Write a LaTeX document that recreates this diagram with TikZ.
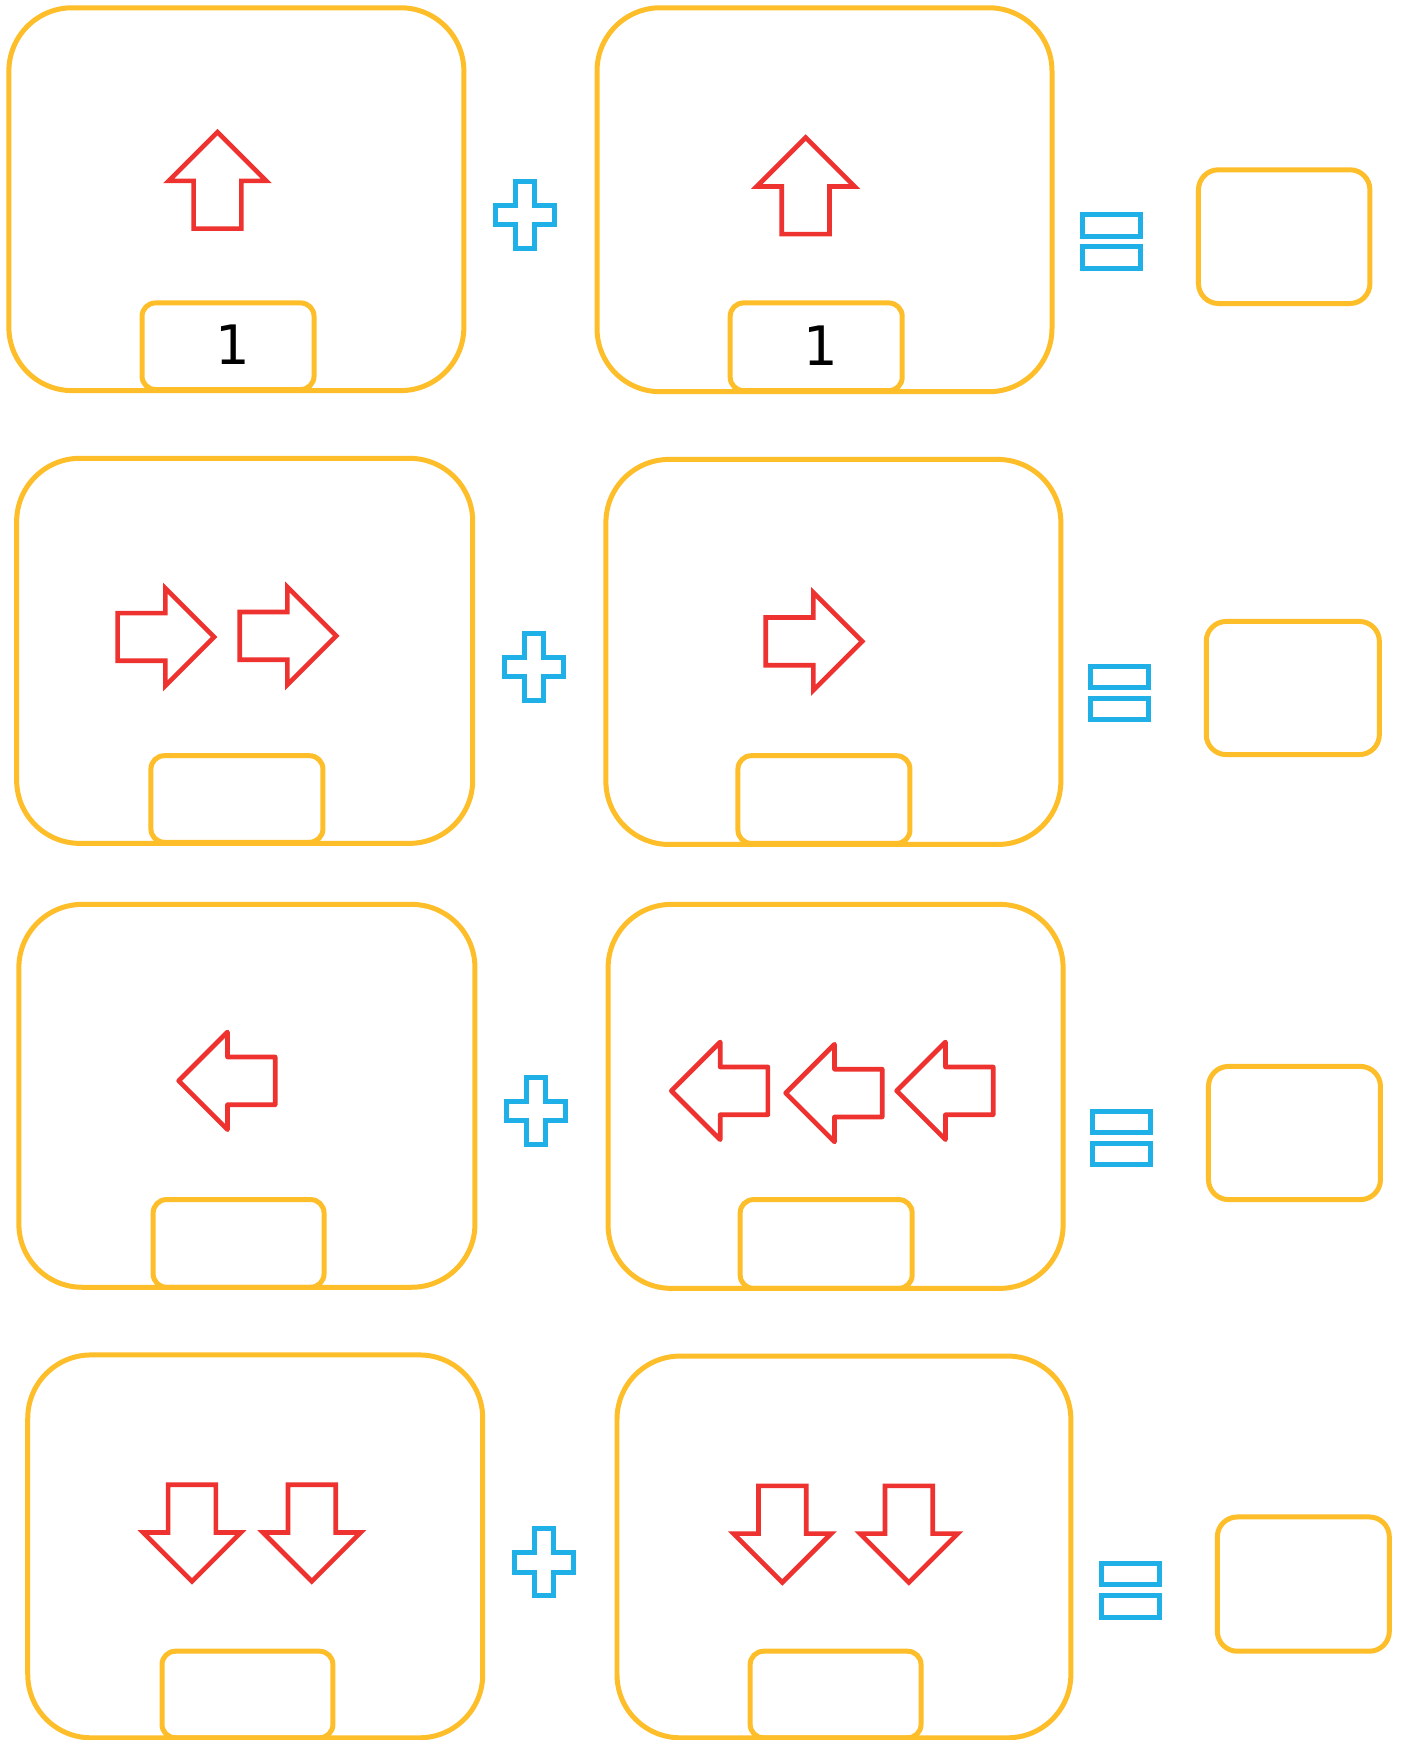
\documentclass[tikz,border=0pt]{standalone}
\usepackage{fontspec}
\newfontfamily\numfont{DejaVu Sans}
\definecolor{boxc}{RGB}{254,190,42}
\definecolor{arrc}{RGB}{238,50,47}
\definecolor{opc}{RGB}{30,176,230}
\tikzset{
  bigbox/.style={draw=boxc, line width=4.5pt, rounded corners=57pt},
  smallbox/.style={draw=boxc, line width=4.5pt, rounded corners=12pt},
  ansbox/.style={draw=boxc, line width=4.5pt, rounded corners=18pt},
  arrline/.style={draw=arrc, line width=4.2pt, miter limit=10},
  opline/.style={draw=opc, line width=4.5pt},
  numtext/.style={inner sep=0pt, font=\numfont\fontsize{49}{51}\selectfont},
  harrow/.pic={\draw[arrline,pic actions] (0,0) -- (-44,44) -- (-44,21.5) -- (-87,21.5) -- (-87,-21.5) -- (-44,-21.5) -- (-44,-44) -- cycle;},
  plussign/.pic={\draw[opline] (-8.7,-30.2) -- (8.7,-30.2) -- (8.7,-8.6) -- (26.6,-8.6) -- (26.6,8.6) -- (8.7,8.6) -- (8.7,30.2) -- (-8.7,30.2) -- (-8.7,8.6) -- (-26.6,8.6) -- (-26.6,-8.6) -- (-8.7,-8.6) -- cycle;},
  eqsign/.pic={\draw[opline] (-26.2,-24.3) rectangle (26.2,-4.8); \draw[opline] (-26.2,4.8) rectangle (26.2,24.3);}
}
\begin{document}
\begin{tikzpicture}[x=1pt,y=-1pt]
\fill[white] (0,0) rectangle (1263,1568);
\useasboundingbox (0,0) rectangle (1263,1568);

% Row 1
\draw[bigbox] (8,7) rectangle (418,352);
\draw[smallbox] (128,273) rectangle (283,351);
\node[numtext] (n1a) at (210,311) {1};
\pic[rotate=90] (a1) at (196,119) {harrow};
\pic (p1) at (473.2,193.7) {plussign};
\draw[bigbox] (538,7) rectangle (948,353);
\draw[smallbox] (658,273) rectangle (813,352);
\node[numtext] (n1b) at (740,311.5) {1};
\pic[rotate=90] (b1) at (726,124) {harrow};
\pic (e1) at (1001.5,217.5) {eqsign};
\draw[ansbox] (1080,153) rectangle (1234.5,273.5);

% Row 2
\draw[bigbox] (15,413) rectangle (426,760);
\draw[smallbox] (136,681) rectangle (291,759);
\pic (a2a) at (193,574) {harrow};
\pic (a2b) at (303,573) {harrow};
\pic (p2) at (481,601) {plussign};
\draw[bigbox] (546,414) rectangle (956,761);
\draw[smallbox] (665,681) rectangle (820,760);
\pic (b2) at (777,578) {harrow};
\pic (e2) at (1009,624.5) {eqsign};
\draw[ansbox] (1087,560) rectangle (1243,680);

% Row 3
\draw[bigbox] (17,815) rectangle (428,1160);
\draw[smallbox] (138,1081) rectangle (292,1160);
\pic[rotate=180,line join=round] (a3) at (161,974) {harrow};
\pic (p3) at (483,1001) {plussign};
\draw[bigbox] (548,815) rectangle (958,1161);
\draw[smallbox] (667,1081) rectangle (822,1161);
\pic[rotate=180,line join=round] (b3a) at (605,983) {harrow};
\pic[rotate=180,line join=round] (b3b) at (708,985) {harrow};
\pic[rotate=180,line join=round] (b3c) at (808,983) {harrow};
\pic (e3) at (1011,1025.5) {eqsign};
\draw[ansbox] (1089,961) rectangle (1244,1081);

% Row 4
\draw[bigbox] (25,1221) rectangle (435,1566);
\draw[smallbox] (146,1488) rectangle (300,1566);
\pic[rotate=-90] (a4a) at (173,1425) {harrow};
\pic[rotate=-90] (a4b) at (281,1425) {harrow};
\pic (p4) at (490,1408) {plussign};
\draw[bigbox] (556,1222) rectangle (965,1566);
\draw[smallbox] (676,1488) rectangle (830,1566);
\pic[rotate=-90] (b4a) at (705,1426) {harrow};
\pic[rotate=-90] (b4b) at (819,1426) {harrow};
\pic (e4) at (1018.5,1433) {eqsign};
\draw[ansbox] (1097,1367) rectangle (1252,1488);
\end{tikzpicture}
\end{document}
